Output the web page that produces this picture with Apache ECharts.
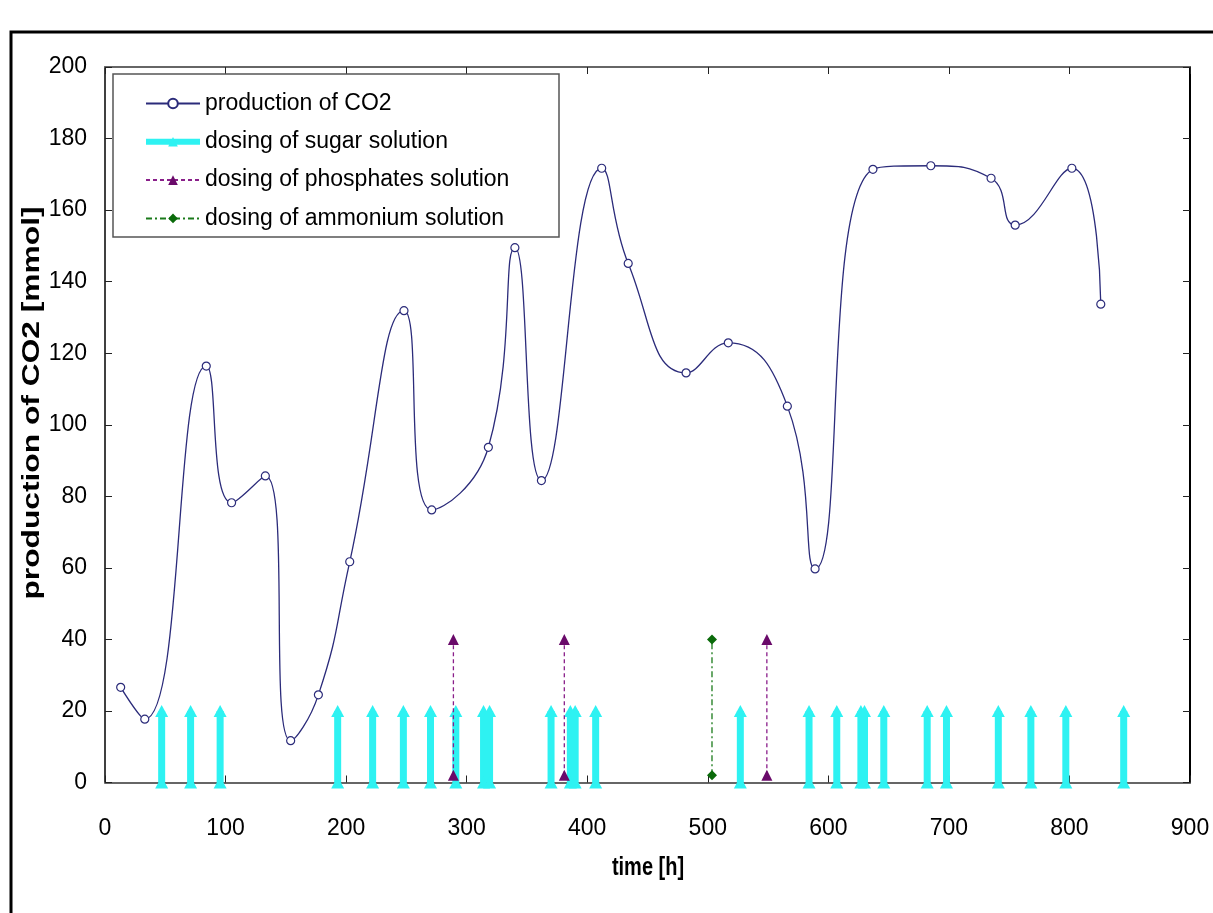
<!DOCTYPE html>
<html>
<head>
<meta charset="utf-8">
<title>production of CO2</title>
<script src="https://cdn.jsdelivr.net/npm/echarts@6/dist/echarts.min.js"></script>
<style>
  html, body { margin: 0; padding: 0; background: #ffffff; }
  #chart { width: 1213px; height: 913px; }
</style>
</head>
<body>
<div id="chart"></div>
<script>
// Measured CO2 production over time
const co2Time  = [13, 33, 84, 105, 133, 154, 177, 203, 248, 271, 318, 340, 362, 412, 434, 482, 517, 566, 589, 637, 685, 735, 755, 802, 826];
const co2Value = [26.6, 17.7, 116.4, 78.2, 85.7, 11.7, 24.5, 61.7, 131.9, 76.2, 93.7, 149.5, 84.4, 171.7, 145.1, 114.5, 122.9, 105.2, 59.7, 171.4, 172.4, 168.9, 155.8, 171.7, 133.7];

// Dosing events (time in h) and the height of the marker drawn for each
const sugarTimes = [47, 71, 95.5, 193, 222, 247.5, 270, 291, 314, 319, 370, 386, 390, 407, 527, 584, 607, 627, 630, 646, 682, 698, 741, 768, 797, 845];
const sugarLevel = [0, 20];
const phosphateTimes = [289, 381, 549];
const phosphateLevel = [2, 40];
const ammoniumTimes = [503.5];
const ammoniumLevel = [2, 40];

// Axis ticks
const xTicks = [0, 100, 200, 300, 400, 500, 600, 700, 800, 900];
const yTicks = [0, 20, 40, 60, 80, 100, 120, 140, 160, 180, 200];

// Each dose is a vertical segment; '-' breaks the line between doses
function eventSegments(times, level) {
  const out = [];
  times.forEach(t => {
    out.push([t, level[0]]);
    out.push([t, level[1]]);
    out.push([t, '-']);
  });
  return out;
}

const FONT = 'Arial, "Liberation Sans", sans-serif';
const chart = echarts.init(document.getElementById('chart'), null, { renderer: 'canvas' });

const gridLeft = 105, gridTop = 67, gridW = 1085, gridH = 715.5;

const tickStyle = { inside: true, length: 7, lineStyle: { color: '#222', width: 1 } };

chart.setOption({
  backgroundColor: '#ffffff',
  animation: false,
  grid: { left: gridLeft, top: gridTop, width: gridW, height: gridH },
  graphic: [
    { type: 'rect', shape: { x: 11, y: 32, width: 1260, height: 960 },
      style: { fill: 'none', stroke: '#000', lineWidth: 3 }, z: 0 },
    { type: 'rect', shape: { x: 113, y: 74, width: 446, height: 163 },
      style: { fill: '#fff', stroke: '#555', lineWidth: 1.5 }, z: 20 },
    { type: 'text', x: 33, y: 403, rotation: Math.PI / 2, scaleX: 1.38,
      style: { text: 'production of CO2 [mmol]', font: 'bold 23px ' + FONT, fill: '#000',
               textAlign: 'center', textVerticalAlign: 'middle' }, z: 20 },
    { type: 'text', x: 648, y: 868, scaleY: 1.25,
      style: { text: 'time [h]', font: 'bold 20px ' + FONT, fill: '#000',
               textAlign: 'center', textVerticalAlign: 'middle' }, z: 20 }
  ],
  legend: {
    left: 143, top: 91.5, orient: 'vertical',
    itemWidth: 54, itemHeight: 12, itemGap: 14.3,
    padding: 0, z: 30,
    textStyle: { fontFamily: FONT, fontSize: 23, color: '#000', lineHeight: 24 },
    data: [
      { name: 'production of CO2' },
      { name: 'dosing of sugar solution', lineStyle: { width: 6 } },
      { name: 'dosing of phosphates solution' },
      { name: 'dosing of ammonium solution' }
    ]
  },
  xAxis: [{
    type: 'value', min: 0, max: 900, interval: 100, position: 'bottom',
    axisLine: { onZero: false, lineStyle: { color: '#666', width: 2 } },
    axisTick: tickStyle,
    axisLabel: { margin: 35, fontFamily: FONT, fontSize: 23, color: '#000' },
    splitLine: { show: false }
  }, {
    type: 'value', min: 0, max: 900, interval: 100, position: 'top',
    axisLine: { onZero: false, lineStyle: { color: '#666', width: 2 } },
    axisTick: tickStyle,
    axisLabel: { show: false }, splitLine: { show: false }
  }],
  yAxis: [{
    type: 'value', min: 0, max: 200, interval: 20, position: 'left',
    axisLine: { show: true, onZero: false, lineStyle: { color: '#000', width: 1.5 } },
    axisTick: tickStyle,
    axisLabel: { margin: 18, fontFamily: FONT, fontSize: 23, color: '#000' },
    splitLine: { show: false }
  }, {
    type: 'value', min: 0, max: 200, interval: 20, position: 'right',
    axisLine: { show: true, onZero: false, lineStyle: { color: '#000', width: 2 } },
    axisTick: tickStyle,
    axisLabel: { show: false }, splitLine: { show: false }
  }],
  series: [
    {
      name: 'dosing of sugar solution', type: 'line',
      data: eventSegments(sugarTimes, sugarLevel),
      connectNulls: false, clip: false,
      symbol: 'triangle', symbolSize: [13, 12], showSymbol: true,
      lineStyle: { color: '#2ef2f2', width: 7 },
      itemStyle: { color: '#2ef2f2', borderWidth: 0 },
      z: 3
    },
    {
      name: 'production of CO2', type: 'line',
      data: co2Time.map((t, i) => [t, co2Value[i]]),
      smooth: 0.5,
      symbol: 'circle', symbolSize: 8,
      lineStyle: { color: '#2b2b7a', width: 1.3 },
      itemStyle: { color: '#ffffff', borderColor: '#2b2b7a', borderWidth: 1.2 },
      z: 4
    },
    {
      name: 'dosing of phosphates solution', type: 'line',
      data: eventSegments(phosphateTimes, phosphateLevel),
      connectNulls: false, clip: false,
      symbol: 'triangle', symbolSize: 11,
      lineStyle: { color: '#8a1f8a', width: 1.3, type: [4, 3] },
      itemStyle: { color: '#6a0a6a' },
      z: 5
    },
    {
      name: 'dosing of ammonium solution', type: 'line',
      data: eventSegments(ammoniumTimes, ammoniumLevel),
      connectNulls: false, clip: false,
      symbol: 'diamond', symbolSize: 10,
      lineStyle: { color: '#1a7a1a', width: 1.3, type: [6, 3, 2, 3] },
      itemStyle: { color: '#0a6a0a' },
      z: 5
    }
  ]
});
</script>
</body>
</html>
